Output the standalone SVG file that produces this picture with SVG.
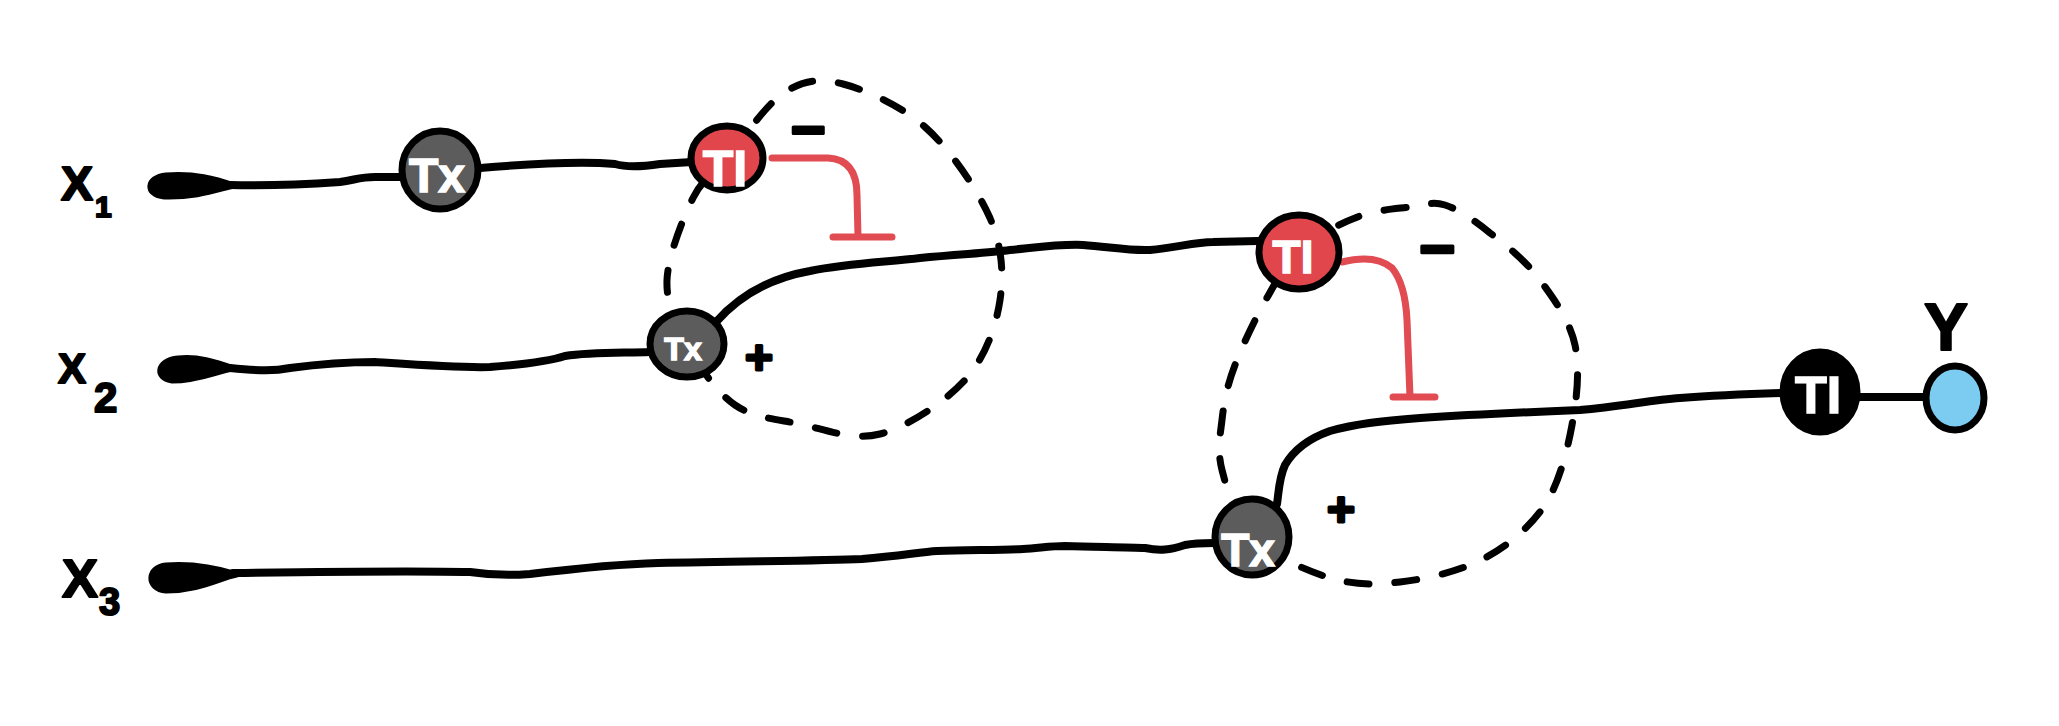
<svg xmlns="http://www.w3.org/2000/svg" width="2059" height="726" viewBox="0 0 2059 726">
<style>
.wire{fill:none;stroke:#000;stroke-width:8;stroke-linecap:round;stroke-linejoin:round}
.blob{fill:#000;stroke:#000;stroke-width:3;stroke-linejoin:round}
.loop{fill:none;stroke:#000;stroke-width:7;stroke-linecap:round;stroke-dasharray:22 26}
.inh{fill:none;stroke:#e14b52;stroke-width:7;stroke-linecap:round;stroke-linejoin:round}
.node{stroke:#000;stroke-width:7}
.tx{fill:#5c5c5c}
.ti{fill:#e2464d}
.tib{fill:#000}
.out{fill:#7ccbf1}
.nt{fill:#fff;stroke:#fff;stroke-width:1.5;font-family:"Liberation Sans",Arial,sans-serif;font-weight:bold;text-anchor:middle}
.lbl{fill:#000;stroke:#000;stroke-width:2;stroke-linejoin:round;font-family:"Liberation Sans",Arial,sans-serif;font-weight:bold}
.sign{fill:#000;stroke:#000;stroke-width:3;stroke-linejoin:round;font-family:"Liberation Sans",Arial,sans-serif;font-weight:bold;text-anchor:middle}
</style>
<rect width="2059" height="726" fill="#fff"/>
<g id="labels">
<text class="lbl" x="61" y="200" font-size="48">X</text>
<text class="lbl" x="95" y="217" font-size="30">1</text>
<text class="lbl" x="58" y="383" font-size="42">X</text>
<text class="lbl" x="94" y="412" font-size="42">2</text>
<text class="lbl" x="62" y="597" font-size="54">X</text>
<text class="lbl" x="99" y="615" font-size="38">3</text>
<text class="lbl" x="1946" y="350" font-size="66" text-anchor="middle">Y</text>
<text class="sign" x="808" y="150" font-size="60">−</text>
<text class="sign" x="1437" y="270" font-size="62">−</text>
<text class="sign" x="759" y="374" font-size="48">+</text>
<text class="sign" x="1341" y="526" font-size="48">+</text>
</g>
<g id="loops">
<path class="loop" d="M727,158 C742,140 766,104 785,92 C804,80 820,78 843,84 C866,90 900,105 925,127 C950,149 977,189 990,218 C1002,247 1004,273 1000,300 C996,327 985,358 965,380 C945,402 907,427 880,434 C852,441 824,429 800,424 C776,419 754,418 735,405 C716,392 698,365 687,344 C676,323 666,304 667,280 C668,256 683,218 693,198 C703,178 712,176 727,158 Z"/>
<path class="loop" d="M1299,252 C1313,239 1336,225 1355,218 C1373,210 1395,209 1410,207 C1425,205 1432,201 1445,205 C1458,209 1474,220 1490,233 C1506,245 1526,261 1540,280 C1554,299 1570,321 1575,345 C1580,369 1577,398 1572,425 C1567,452 1559,483 1545,505 C1530,527 1509,545 1485,558 C1461,571 1426,579 1400,582 C1374,585 1355,585 1330,578 C1305,570 1270,555 1252,537 C1234,519 1227,489 1222,470 C1217,450 1220,437 1222,420 C1224,402 1227,386 1235,365 C1243,344 1257,315 1268,296 C1279,277 1284,265 1299,252 Z"/>
</g>
<g id="connectors">
<path class="blob" d="M234,184 C215,177 195,172 166,174 C144,176 143,196 164,198 C195,199 217,191 234,187 Z"/>
<path class="blob" d="M234,367 C215,360 198,355 178,357 C154,359 153,380 172,382 C200,382 217,372 234,370 Z"/>
<path class="blob" d="M237,573 C215,566 193,562 166,564 C145,566 144,590 166,592 C200,592 220,579 237,576 Z"/>
<path class="wire" d="M230,185 C270,186 310,184 340,182 C355,180 360,177 375,177 L400,177"/>
<path class="wire" d="M480,168 C540,163 590,162 615,164 C625,167 640,167 660,164 L692,162"/>
<path class="wire" d="M230,368 C260,371 275,371 290,368 C320,364 350,362 375,362 C420,365 460,368 490,367 C530,364 550,361 565,356 C590,352 620,353 650,352"/>
<path class="wire" d="M716,322 C740,295 770,278 810,271 C850,263 890,262 920,258 C960,254 990,253 1010,250 C1040,247 1060,244 1083,245 C1110,247 1130,251 1150,250 C1175,248 1195,242 1213,242 L1258,241"/>
<path class="wire" d="M233,573 C300,572 430,571 470,572 C490,575 505,576 530,574 C580,568 620,564 658,563 C740,561 820,561 862,559 C900,556 920,552 937,551 C970,550 1000,550 1023,549 C1040,548 1050,546 1065,546 C1100,547 1130,547 1145,548 C1160,551 1170,550 1185,545 C1195,543 1205,543 1214,543"/>
<path class="wire" d="M1277,504 C1279,490 1279,478 1285,465 C1295,448 1310,438 1330,431 C1355,424 1380,421 1420,418 C1480,414 1530,412 1580,410 C1620,407 1650,400 1680,398 C1720,395 1750,394 1782,393"/>
<path class="wire" d="M1858,397 L1926,397"/>
<path class="inh" d="M772,158 L828,158 C848,159 857,172 857,195 L858,237 M833,237 L892,237"/>
<path class="inh" d="M1342,262 C1362,257 1380,258 1392,268 C1402,280 1406,300 1407,320 L1410,397 M1393,397 L1435,397"/>
</g>
<g id="tx1"><ellipse class="node tx" cx="440" cy="170" rx="38" ry="39"/><text class="nt" x="437" y="192" font-size="48">Tx</text></g>
<g id="ti1"><ellipse class="node ti" cx="727" cy="158" rx="36" ry="32"/><text class="nt" x="725" y="186" font-size="50">TI</text></g>
<g id="tx2"><ellipse class="node tx" cx="687" cy="344" rx="37" ry="33"/><text class="nt" x="683" y="360" font-size="32">Tx</text></g>
<g id="ti2"><ellipse class="node ti" cx="1299" cy="252" rx="40" ry="37"/><text class="nt" x="1293" y="273" font-size="46">TI</text></g>
<g id="tx3"><ellipse class="node tx" cx="1252" cy="537" rx="37" ry="38"/><text class="nt" x="1248" y="566" font-size="46">Tx</text></g>
<g id="ti3"><ellipse class="node tib" cx="1820" cy="392" rx="37" ry="40"/><text class="nt" x="1818" y="413" font-size="52">TI</text></g>
<g id="y"><ellipse class="node out" cx="1955" cy="398" rx="29" ry="32"/></g>
</svg>
